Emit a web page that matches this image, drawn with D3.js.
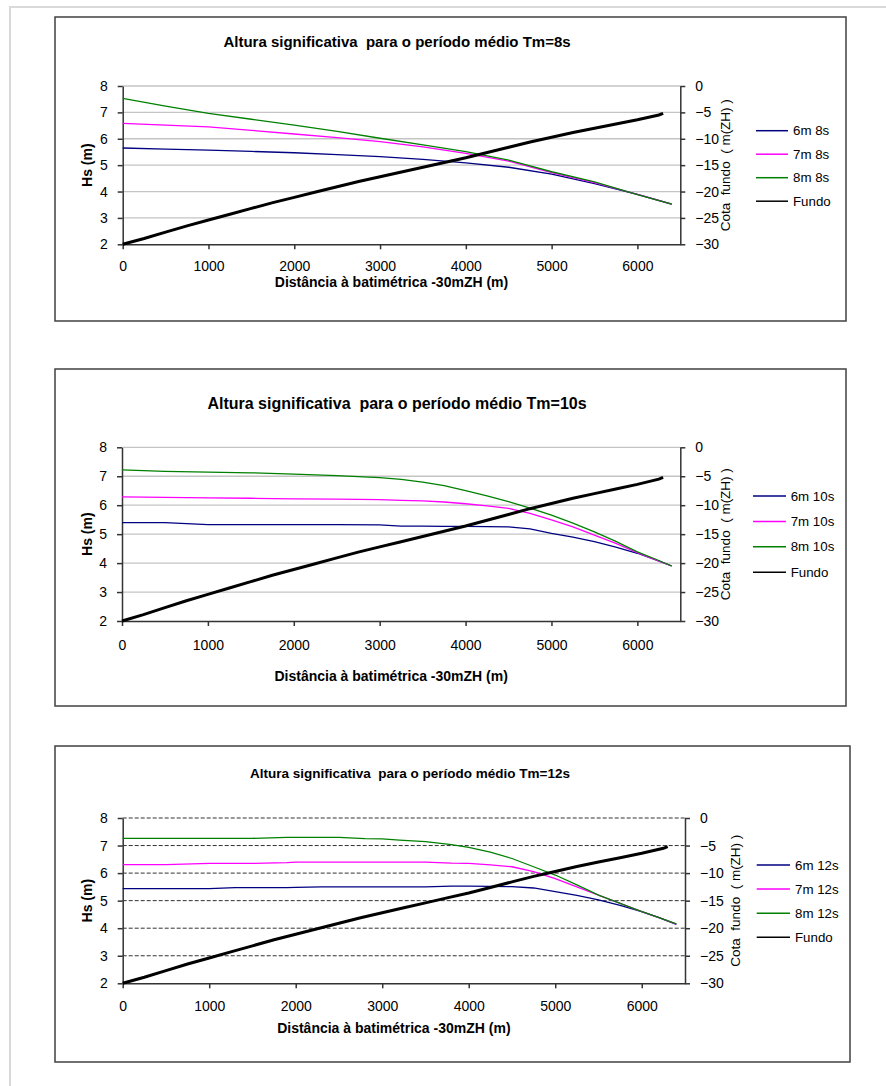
<!DOCTYPE html>
<meta charset="utf-8">
<head>
    <style>
        body { margin: 0; background: #fff; }
        svg { display: block; }
        text { font-family: "Liberation Sans", Arial, sans-serif; fill: #000; }
        .domain, .tick line { stroke: #333; }
    </style>
</head>
<body>
<svg width="886" height="1086"></svg>
<script src="https://d3js.org/d3.v7.min.js"></script>
<script>

    // bathymetry (same profile in every chart), secondary axis
    var fundoDist = [0, 250, 500, 750, 1000, 1250, 1500, 1750, 2000, 2250, 2500, 2750, 3000, 3250,
        3500, 3750, 4000, 4250, 4500, 4750, 5000, 5250, 5500, 5750, 6000, 6250, 6300];
    var fundoCota = [-30, -28.9, -27.7, -26.5, -25.4, -24.3, -23.2, -22.1, -21.1, -20.1, -19.1, -18.1, -17.2, -16.3,
        -15.4, -14.5, -13.6, -12.6, -11.6, -10.6, -9.7, -8.8, -8.0, -7.2, -6.4, -5.5, -5.2];

    // Tm = 8s
    var dist8 = [0, 500, 1000, 1500, 2000, 2500, 3000, 3500, 4000, 4500, 5000, 5500, 6000, 6400];
    var hs6m8s = [5.65, 5.61, 5.57, 5.52, 5.47, 5.40, 5.32, 5.22, 5.09, 4.92, 4.66, 4.30, 3.89, 3.52];
    var hs7m8s = [6.58, 6.52, 6.45, 6.32, 6.18, 6.04, 5.89, 5.69, 5.45, 5.15, 4.72, 4.34, 3.89, 3.52];
    var hs8m8s = [7.53, 7.24, 6.96, 6.74, 6.52, 6.28, 6.02, 5.77, 5.51, 5.19, 4.75, 4.37, 3.88, 3.52];

    // Tm = 10s
    var dist10 = [0, 500, 1000, 1500, 2000, 2500, 3000, 3250, 3500, 3750, 4000, 4250, 4500, 4750,
        5000, 5250, 5500, 5750, 6000, 6200, 6400];
    var hs6m10s = [5.40, 5.40, 5.33, 5.33, 5.33, 5.33, 5.32, 5.28, 5.28, 5.27, 5.27, 5.26, 5.25, 5.18,
        5.03, 4.90, 4.74, 4.55, 4.34, 4.13, 3.90];
    var hs7m10s = [6.29, 6.27, 6.25, 6.24, 6.22, 6.21, 6.19, 6.17, 6.15, 6.11, 6.05, 5.98, 5.89, 5.72,
        5.49, 5.25, 4.97, 4.68, 4.36, 4.13, 3.90];
    var hs8m10s = [7.22, 7.17, 7.14, 7.12, 7.07, 7.02, 6.95, 6.89, 6.80, 6.68, 6.50, 6.32, 6.12, 5.90,
        5.66, 5.38, 5.08, 4.75, 4.39, 4.15, 3.90];

    // Tm = 12s
    var dist12 = [0, 500, 1000, 1300, 1500, 1900, 2000, 2300, 2500, 2800, 3000, 3200, 3500, 3800,
        4000, 4250, 4500, 4750, 5000, 5250, 5500, 5750, 6000, 6200, 6400];
    var hs6m12s = [5.44, 5.44, 5.44, 5.47, 5.47, 5.47, 5.48, 5.50, 5.50, 5.50, 5.50, 5.50, 5.50, 5.53,
        5.53, 5.52, 5.51, 5.46, 5.33, 5.19, 5.03, 4.83, 4.60, 4.38, 4.14];
    var hs7m12s = [6.31, 6.31, 6.35, 6.35, 6.35, 6.38, 6.40, 6.40, 6.40, 6.40, 6.40, 6.40, 6.40, 6.36,
        6.35, 6.30, 6.23, 6.05, 5.80, 5.50, 5.20, 4.90, 4.60, 4.38, 4.15];
    var hs8m12s = [7.26, 7.26, 7.26, 7.26, 7.26, 7.30, 7.30, 7.30, 7.30, 7.25, 7.24, 7.20, 7.14, 7.03,
        6.93, 6.76, 6.53, 6.23, 5.93, 5.57, 5.20, 4.90, 4.60, 4.38, 4.16];

    var xTicks = [0, 1000, 2000, 3000, 4000, 5000, 6000];
    var hsTicks = [2, 3, 4, 5, 6, 7, 8];
    var cotaTicks = [0, -5, -10, -15, -20, -25, -30];

    var seriesColors = ["#000080", "#ff00ff", "#008000"];
    var font = '"Liberation Sans", Arial, sans-serif';

    var svg = d3.select("svg");

    // light page frame
    svg.append("rect")
        .attr("x", 10).attr("y", 7)
        .attr("width", 900).attr("height", 1100)
        .attr("fill", "none")
        .attr("stroke", "#d9d9d9")
        .attr("stroke-width", 2);

    var charts = [
        {
            title: "Altura significativa  para o período médio Tm=8s", titleSize: 15, titleX: 397,
            box: [55, 17, 846, 321], plot: [122.7, 680.3, 86, 244.3],
            titleY: 42, tickY: 266, xTitleY: 282.5, rightTitleX: 725.7,
            legend: [756, 788, 793, 130.7, 23.5],
            dist: dist8, series: [hs6m8s, hs7m8s, hs8m8s],
            names: ["6m 8s", "7m 8s", "8m 8s"], dashedGrid: false
        },
        {
            title: "Altura significativa  para o período médio Tm=10s", titleSize: 16, titleX: 397,
            box: [55, 369, 846, 706], plot: [122, 680.3, 447.3, 621],
            titleY: 403.3, tickY: 645, xTitleY: 676, rightTitleX: 725,
            legend: [753, 786, 790.7, 496, 25.4],
            dist: dist10, series: [hs6m10s, hs7m10s, hs8m10s],
            names: ["6m 10s", "7m 10s", "8m 10s"], dashedGrid: false
        },
        {
            title: "Altura significativa  para o período médio Tm=12s", titleSize: 13.5, titleX: 410,
            box: [55, 746, 850, 1062], plot: [122.7, 685, 818, 983.3],
            titleY: 773.3, tickY: 1006, xTitleY: 1028.3, rightTitleX: 735,
            legend: [756.7, 790, 795, 865, 24.1],
            dist: dist12, series: [hs6m12s, hs7m12s, hs8m12s],
            names: ["6m 12s", "7m 12s", "8m 12s"], dashedGrid: true
        }
    ];

    charts.forEach(drawChart);

    function drawChart(c) {
        var g = svg.append("g");
        var x0 = c.plot[0], x1 = c.plot[1], yTop = c.plot[2], yBot = c.plot[3];

        g.append("rect")
            .attr("x", c.box[0]).attr("y", c.box[1])
            .attr("width", c.box[2] - c.box[0]).attr("height", c.box[3] - c.box[1])
            .attr("fill", "#fff")
            .attr("stroke", "#404040")
            .attr("stroke-width", 1.5);

        var x = d3.scaleLinear().domain([0, 6500]).range([x0, x1]);
        var y = d3.scaleLinear().domain([2, 8]).range([yBot, yTop]);
        var y2 = d3.scaleLinear().domain([-30, 0]).range([yBot, yTop]);

        // gridlines
        g.append("g")
            .selectAll("line")
            .data(hsTicks.slice(1))
            .enter().append("line")
            .attr("x1", x0).attr("x2", x1)
            .attr("y1", function (d) { return y(d); })
            .attr("y2", function (d) { return y(d); })
            .attr("stroke", c.dashedGrid ? "#333" : "#c4c4c4")
            .attr("stroke-width", c.dashedGrid ? 1 : 1.3)
            .attr("stroke-dasharray", c.dashedGrid ? "4,2" : null);

        // axes
        var fmt = d3.format("d");
        var ax = g.append("g")
            .attr("transform", "translate(0," + yBot + ")")
            .call(d3.axisBottom(x).tickValues(xTicks).tickFormat(fmt)
                .tickSize(5).tickSizeOuter(0).tickPadding(c.tickY - yBot - 10));
        var ay = g.append("g")
            .attr("transform", "translate(" + x0 + ",0)")
            .call(d3.axisLeft(y).tickValues(hsTicks).tickFormat(fmt)
                .tickSize(5).tickSizeOuter(0).tickPadding(10));
        var ay2 = g.append("g")
            .attr("transform", "translate(" + x1 + ",0)")
            .call(d3.axisRight(y2).tickValues(cotaTicks).tickFormat(fmt)
                .tickSize(5).tickSizeOuter(0).tickPadding(10));

        [ax, ay, ay2].forEach(function (a) {
            a.attr("font-size", 14).attr("font-family", font);
            a.selectAll("path, line").attr("stroke", "#333").attr("stroke-width", 1.5);
            a.selectAll("text").attr("fill", "#000");
        });

        // Hs series
        var line = d3.line()
            .x(function (d) { return x(d[0]); })
            .y(function (d) { return y(d[1]); });

        c.series.forEach(function (s, i) {
            var pts = c.dist.map(function (dd, j) { return [dd, s[j]]; });
            g.append("path")
                .datum(pts)
                .attr("d", line)
                .attr("fill", "none")
                .attr("stroke", seriesColors[i])
                .attr("stroke-width", 1.3);
        });

        // bottom profile on secondary axis
        var line2 = d3.line()
            .x(function (d) { return x(d[0]); })
            .y(function (d) { return y2(d[1]); });
        g.append("path")
            .datum(fundoDist.map(function (dd, j) { return [dd, fundoCota[j]]; }))
            .attr("d", line2)
            .attr("fill", "none")
            .attr("stroke", "#000")
            .attr("stroke-width", 3);

        // titles
        g.append("text")
            .attr("x", c.titleX).attr("y", c.titleY)
            .attr("dy", "0.35em")
            .attr("text-anchor", "middle")
            .attr("font-weight", "bold")
            .attr("font-size", c.titleSize)
            .style("white-space", "pre")
            .text(c.title);

        g.append("text")
            .attr("x", (x0 + x1) / 2 - 10).attr("y", c.xTitleY)
            .attr("dy", "0.35em")
            .attr("text-anchor", "middle")
            .attr("font-weight", "bold")
            .attr("font-size", 14)
            .text("Distância à batimétrica -30mZH (m)");

        g.append("text")
            .attr("transform", "translate(87," + ((yTop + yBot) / 2) + ") rotate(-90)")
            .attr("dy", "0.35em")
            .attr("text-anchor", "middle")
            .attr("font-weight", "bold")
            .attr("font-size", 14)
            .text("Hs (m)");

        g.append("text")
            .attr("transform", "translate(" + c.rightTitleX + "," + ((yTop + yBot) / 2) + ") rotate(-90)")
            .attr("dy", "0.35em")
            .attr("text-anchor", "middle")
            .attr("font-size", 13.5)
            .style("white-space", "pre")
            .text("Cota  fundo  ( m(ZH) )");

        // legend
        var names = c.names.concat(["Fundo"]);
        var cols = seriesColors.concat(["#000"]);
        var lg = g.append("g")
            .selectAll("g")
            .data(names)
            .enter().append("g")
            .attr("transform", function (d, i) { return "translate(0," + (c.legend[3] + i * c.legend[4]) + ")"; });
        lg.append("line")
            .attr("x1", c.legend[0]).attr("x2", c.legend[1])
            .attr("stroke", function (d, i) { return cols[i]; })
            .attr("stroke-width", 1.5);
        lg.append("text")
            .attr("x", c.legend[2])
            .attr("dy", "0.35em")
            .attr("font-size", 13.3)
            .text(function (d) { return d; });
    }

</script>
</body>
